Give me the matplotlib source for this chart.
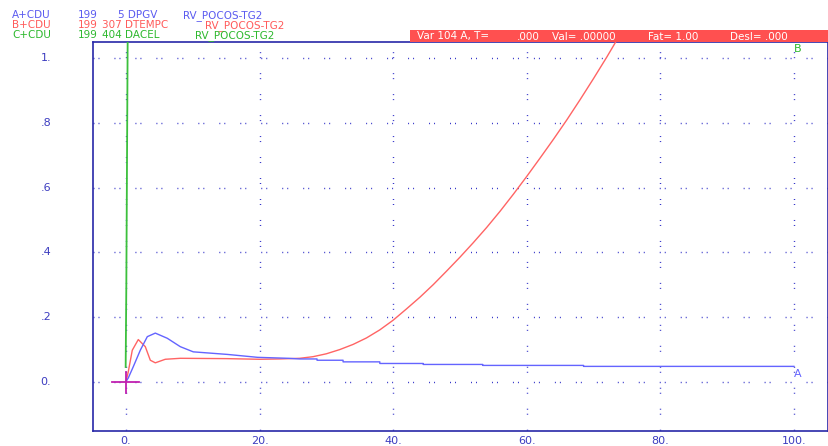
import matplotlib
matplotlib.use("Agg")
import matplotlib.pyplot as plt
import matplotlib.transforms as mtransforms

plt.rcParams['lines.scale_dashes'] = False
plt.rcParams['font.family'] = ['DejaVu Sans']

# ---- data ----
red_x = [0.0, 0.34, 0.94, 1.84, 2.89, 3.64, 4.39, 5.88, 8.13, 15.0, 20.0, 23.0, 26.0, 28.0, 30.0,
         32.0, 34.0, 36.0, 38.0, 40.0, 42.0, 44.0, 46.0, 48.0, 50.0, 52.0, 54.0, 56.0, 58.0,
         60.0, 62.0, 64.0, 66.0, 68.0, 70.0, 72.0, 74.0]
red_y = [0.0, 0.030, 0.097, 0.130, 0.108, 0.066, 0.058, 0.069, 0.072, 0.071, 0.069, 0.070, 0.072,
         0.077, 0.086, 0.099, 0.115, 0.135, 0.160, 0.190, 0.225, 0.261, 0.300, 0.342, 0.385,
         0.430, 0.477, 0.527, 0.580, 0.635, 0.692, 0.750, 0.810, 0.873, 0.938, 1.005, 1.075]

blue_x = [0.0, 0.34, 1.09, 2.14, 3.19, 4.39, 6.18, 8.13, 10.07, 15.2, 19.7, 24.3, 26.0,
          28.6, 28.6, 32.5, 32.5, 38.0, 38.0, 44.5, 44.5, 53.4, 53.4, 68.5, 68.5, 100.0]
blue_y = [0.0, 0.011, 0.046, 0.097, 0.139, 0.150, 0.134, 0.108, 0.092, 0.084, 0.075, 0.072, 0.070,
          0.070, 0.066, 0.066, 0.061, 0.061, 0.056, 0.056, 0.053, 0.053, 0.050, 0.050, 0.047, 0.047]

green_x = [-0.05, 0.05, 0.25]
green_y = [0.045, 0.3, 1.06]

cross_x = [-2.05, 2.0]
cross_y = [-0.036, 0.03]

xticks = [0, 20, 40, 60, 80, 100]
xtick_labels = ["0.", "20.", "40.", "60.", "80.", "100."]
yticks = [0.0, 0.2, 0.4, 0.6, 0.8, 1.0]
ytick_labels = ["0.", ".2", ".4", ".6", ".8", "1."]

header_rows = [
    ("A+CDU", "199", "5 DPGV", "RV_POCOS-TG2"),
    ("B+CDU", "199", "307 DTEMPC", "RV_POCOS-TG2"),
    ("C+CDU", "199", "404 DACEL", "RV_POCOS-TG2"),
]
header_cols_x = [(12, 78, 118, 183), (12, 78, 102, 205), (12, 78, 102, 195)]
header_colors = ["#5a5af0", "#ff5a5a", "#2db82d"]
status_parts = [("Var 104 A, T=", 417), (".000", 517), ("Val= .00000", 552),
                ("Fat= 1.00", 648), ("Desl= .000", 730)]

# ---- figure ----
W, H = 829, 446
fig = plt.figure(figsize=(W / 100, H / 100), dpi=100)
fig.patch.set_facecolor("white")

L, R, T, B = 93, 828, 42, 431
ax = fig.add_axes([L / W, 1 - B / H, (R - L) / W, (B - T) / H])
ax.set_xlim(-4.94, 105.1)
ax.set_ylim(-0.153, 1.051)
ax.set_xticks([])
ax.set_yticks([])
spine_col = "#2828a8"
for s in ax.spines.values():
    s.set_color(spine_col)
    s.set_linewidth(1.2)

grid_col = "#3030c8"
dots = (0, (0.7, 2.9, 0.7, 10.8))
for y in yticks:
    ax.axhline(y, color=grid_col, lw=1.0, linestyle=dots, zorder=1)
for x in xticks:
    ax.axvline(x, color=grid_col, lw=1.0, linestyle=(3, (0.7, 2.9, 0.7, 10.8)), zorder=1)

ax.plot(red_x, red_y, color="#ff6464", lw=1.0, zorder=3)
ax.plot(blue_x, blue_y, color="#6464ff", lw=1.0, zorder=4)
ax.plot(green_x, green_y, color="#3cc03c", lw=1.3, zorder=5)
ax.plot(cross_x, [0, 0], color="#c020b0", lw=1.3, zorder=6)
ax.plot([0, 0], cross_y, color="#c020b0", lw=1.3, zorder=6)

# curve end labels
ax.text(100.0, 0.040, "A", color="#6464ff", fontsize=8, ha="left", va="top")
ax.text(100.0, 1.045, "B", color="#2db82d", fontsize=8, ha="left", va="top")

# tick labels
tick_col = "#3c3cc0"
ytrans = mtransforms.blended_transform_factory(fig.transFigure, ax.transData)
for y, lab in zip(yticks, ytick_labels):
    ax.text(46 / W, y, lab, transform=ytrans, color=tick_col, fontsize=8,
            ha="center", va="center")
xtrans = mtransforms.blended_transform_factory(ax.transData, fig.transFigure)
for x, lab in zip(xticks, xtick_labels):
    ax.text(x, 1 - 441 / H, lab, transform=xtrans, color=tick_col, fontsize=8,
            ha="center", va="center")

# header
row_y = [15.5, 25.5, 35.5]
for row, cols, col, yy in zip(header_rows, header_cols_x, header_colors, row_y):
    for txt, xx in zip(row, cols):
        fig.text(xx / W, 1 - yy / H, txt, color=col, fontsize=7.5, ha="left", va="center",
                 linespacing=1.0)

# status bar
fig.patches.append(plt.Rectangle((410 / W, 1 - 42 / H), (W - 410) / W, 12 / H,
                                 transform=fig.transFigure, facecolor="#ff5050",
                                 edgecolor="none", zorder=0))
for txt, xx in status_parts:
    fig.text(xx / W, 1 - 36.5 / H, txt, color="white", fontsize=7.5, ha="left", va="center")

fig.savefig("out.png", dpi=100)
